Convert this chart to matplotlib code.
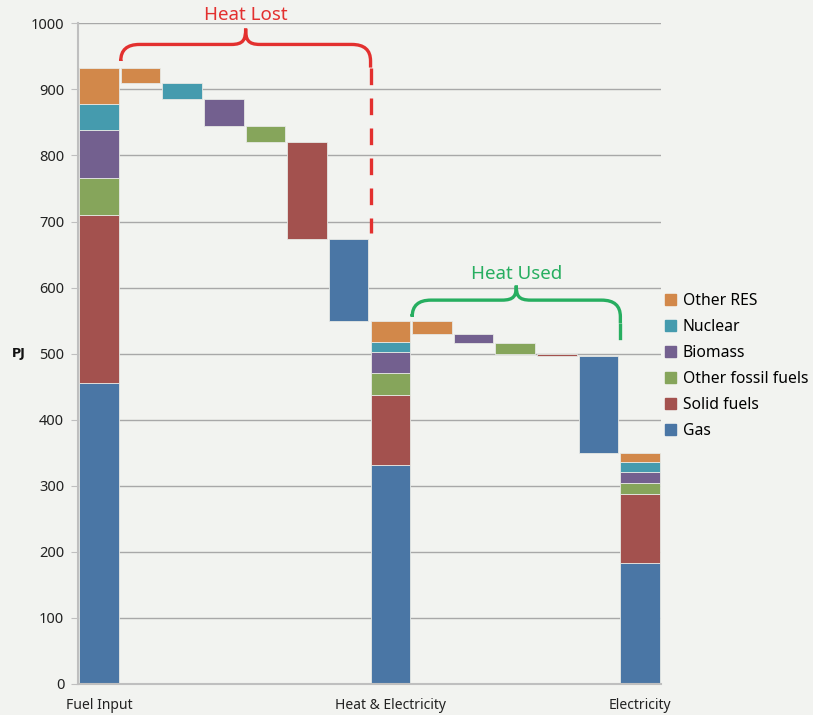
import numpy as np
import matplotlib
matplotlib.use("Agg")
import matplotlib.pyplot as plt
from matplotlib.path import Path
from matplotlib.patches import PathPatch

# Datos (PJ), orden de apilado: de abajo hacia arriba
sources = ['Gas', 'Solid fuels', 'Other fossil fuels', 'Biomass', 'Nuclear', 'Other RES']
colors = ['#4A76A5', '#A3514E', '#86A55B', '#73608F', '#459BAE', '#D2884A']
fuel_input = [455, 255, 56, 72, 40, 54]
heat_lost = [124, 148, 23, 41, 25, 22]
heat_used = [148, 3, 16, 14, 0, 19]
xlabels = ['Fuel Input', 'Heat & Electricity', 'Electricity']

heat_elec = [f - l for f, l in zip(fuel_input, heat_lost)]
electricity = [h - u for h, u in zip(heat_elec, heat_used)]

BG = '#F2F3F0'
plt.rcParams['font.family'] = ['Noto Sans', 'DejaVu Sans']

fig = plt.figure(figsize=(8.13, 7.15), dpi=100, facecolor=BG)
ax = fig.add_axes([0.096, 0.0434, 0.717, 0.924])
ax.set_facecolor(BG)

W = 0.95
EDGE = dict(edgecolor='#E6E8E4', linewidth=0.6)


def stacked(x, vals):
    bottom = 0
    for v, c in zip(vals, colors):
        ax.bar(x, v, W, bottom=bottom, color=c, **EDGE)
        bottom += v


def floating(start_x, top, vals, skip_zero):
    x = start_x
    for i in reversed(range(len(vals))):
        v = vals[i]
        if skip_zero and v == 0:
            continue
        ax.bar(x, v, W, bottom=top - v, color=colors[i], **EDGE)
        top -= v
        x += 1
    return x


stacked(0, fuel_input)
x = floating(1, sum(fuel_input), heat_lost, False)
stacked(x, heat_elec)
x_he = x
x = floating(x + 1, sum(heat_elec), heat_used, True)
stacked(x, electricity)
x_el = x

ax.set_xlim(-0.5, x_el + 0.5)
ax.set_ylim(0, 1000)
ax.set_yticks(range(0, 1001, 100))
ax.set_xticks([0, x_he, x_el])
ax.set_xticklabels(xlabels)
ax.tick_params(axis='x', length=0, pad=10, labelsize=10, colors='#222222')
ax.tick_params(axis='y', length=5, color='#BFBFBF', labelsize=10.5, colors='#222222', pad=5)
ax.grid(axis='y', color='#A8A8A8', linewidth=1)
ax.set_axisbelow(True)
for s in ['top', 'right']:
    ax.spines[s].set_visible(False)
ax.spines['left'].set_color('#BFBFBF')
ax.spines['left'].set_linewidth(1.5)
ax.spines['bottom'].set_color('#BFBFBF')
ax.spines['bottom'].set_linewidth(1.5)
fig.text(0.023, 0.506, 'PJ', fontsize=9, fontweight='bold', family=['DejaVu Sans'],
         ha='center', va='center', color='#111111')


def brace(x0, x1, ytop, yleft, ytip, yright, color, text, ty):
    rx, ry = 0.45, 25
    xm = (x0 + x1) / 2
    tx, tyy = 0.35, ytip - ytop
    verts = [(x0, yleft), (x0, ytop - ry), (x0, ytop), (x0 + rx, ytop),
             (xm - tx, ytop), (xm - 0.05, ytop), (xm, ytop + tyy * 0.3), (xm, ytip),
             (xm, ytop + tyy * 0.3), (xm + 0.05, ytop), (xm + tx, ytop),
             (x1 - rx, ytop), (x1, ytop), (x1, ytop - ry), (x1, ytop - ry - 10)]
    codes = [Path.MOVETO, Path.LINETO, Path.CURVE3, Path.CURVE3,
             Path.LINETO, Path.CURVE4, Path.CURVE4, Path.CURVE4,
             Path.CURVE4, Path.CURVE4, Path.CURVE4,
             Path.LINETO, Path.CURVE3, Path.CURVE3, Path.LINETO]
    ax.add_patch(PathPatch(Path(verts, codes), facecolor='none', edgecolor=color,
                           linewidth=2.4, clip_on=False, capstyle='butt'))
    ax.plot([x1, x1], [ytop - ry - 10, yright], color=color, linewidth=2.4,
            linestyle=(0, (5, 4)), clip_on=False, solid_capstyle='butt')
    ax.text(xm, ty, text, color=color, fontsize=13.5, ha='center', va='center',
            clip_on=False)


brace(0.525, x_he - 0.475, 968, 945, 992, 682, '#E3302F', 'Heat Lost', 1012)
brace(x_he + 0.525, x_el - 0.475, 581, 560, 603, 505, '#27AE60', 'Heat Used', 620)

handles = [plt.Rectangle((0, 0), 1, 1, color=c) for c in colors][::-1]
fig.legend(handles, sources[::-1], loc='upper left', bbox_to_anchor=(0.81, 0.599),
           frameon=False, fontsize=11.3, handlelength=0.7, handleheight=0.7,
           handletextpad=0.45, labelspacing=0.64, borderaxespad=0)

plt.savefig('out.png', dpi=100, facecolor=BG)
